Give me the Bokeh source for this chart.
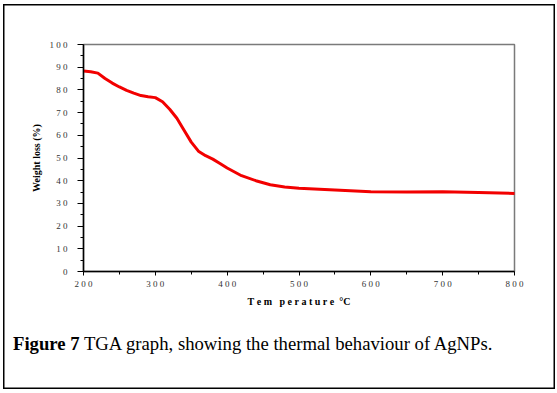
from bokeh.plotting import figure
from bokeh.models import Range1d, FixedTicker, Div
from bokeh.layouts import column
from bokeh.embed import file_html
from bokeh.resources import INLINE

# Data
temperature = [200, 210, 220, 230, 240, 250, 260, 270, 280, 290, 300, 310, 320, 330,
               340, 350, 360, 370, 380, 390, 400, 420, 440, 460, 480, 500, 550,
               600, 650, 700, 750, 800]
weight = [88.3, 88.0, 87.4, 85.0, 83.0, 81.3, 79.8, 78.6, 77.5, 77.0, 76.6, 74.8,
          71.5, 67.5, 62.2, 57.0, 53.0, 51.0, 49.5, 47.6, 45.6, 42.2, 40.0, 38.2,
          37.2, 36.7, 35.9, 35.1, 35.0, 35.1, 34.8, 34.4]

x_ticks = [200, 300, 400, 500, 600, 700, 800]
x_tick_labels = ["2 0 0", "3 0 0", "4 0 0", "5 0 0", "6 0 0", "7 0 0", "8 0 0"]
y_ticks = [0, 10, 20, 30, 40, 50, 60, 70, 80, 90, 100]
y_tick_labels = ["0", "1 0", "2 0", "3 0", "4 0", "5 0", "6 0", "7 0", "8 0", "9 0", "1 0 0"]

NB = "\u00a0"
x_title = NB.join("Tem") + NB * 3 + NB.join("perature") + NB * 2 + "\u00b0C"
y_title = "Weight loss (%)"
caption_bold = "Figure 7"
caption_text = "TGA graph, showing the thermal behaviour of AgNPs."

SERIF = "Liberation Serif"

# panel border drawn as inset box-shadows (white band over black band -> thin black line)
fig_frame = ("inset 3px 0 0 0 white, inset -2px 0 0 0 white, inset 0 4px 0 0 white, "
             "inset 4.5px 0 0 0 black, inset -3.5px 0 0 0 black, inset 0 5.5px 0 0 black")
cap_frame = ("inset 3px 0 0 0 white, inset -2px 0 0 0 white, inset 0 -4px 0 0 white, "
             "inset 4.5px 0 0 0 black, inset -3.5px 0 0 0 black, inset 0 -5.5px 0 0 black")

p = figure(width=557, height=330, output_backend="svg", toolbar_location=None,
           x_range=Range1d(200, 800), y_range=Range1d(0, 100),
           min_border_left=83, min_border_right=43, min_border_top=44, min_border_bottom=59,
           border_fill_color=None, background_fill_color=None,
           styles={"box-shadow": fig_frame, "background": "white"})

p.line(temperature, weight, line_color="#f20000", line_width=3, line_join="round", line_cap="round")

p.grid.visible = False
p.outline_line_color = "#7a7a7a"
p.outline_line_width = 1.5

for ax in (p.xaxis[0], p.yaxis[0]):
    ax.axis_line_color = "black"
    ax.axis_line_width = 1.5
    ax.major_tick_line_color = "black"
    ax.minor_tick_line_color = "black"
    ax.major_tick_in = 0
    ax.minor_tick_in = 0
    ax.major_label_text_font = SERIF
    ax.major_label_text_font_size = "9px"
    ax.major_label_text_color = "#333333"
    ax.axis_label_text_font = SERIF
    ax.axis_label_text_font_style = "bold"
    ax.axis_label_text_font_size = "10px"
    ax.axis_label_text_color = "black"

xa = p.xaxis[0]
xa.ticker = FixedTicker(ticks=x_ticks, minor_ticks=[250, 350, 450, 550, 650, 750])
xa.major_label_overrides = dict(zip(x_ticks, x_tick_labels))
xa.major_tick_out = 4
xa.minor_tick_out = 3
xa.major_label_standoff = 3
xa.axis_label = x_title
xa.axis_label_standoff = 4

ya = p.yaxis[0]
ya.ticker = FixedTicker(ticks=y_ticks, minor_ticks=[5, 15, 25, 35, 45, 55, 65, 75, 85, 95])
ya.major_label_overrides = dict(zip(y_ticks, y_tick_labels))
ya.major_tick_out = 6
ya.minor_tick_out = 3
ya.major_label_standoff = 10
ya.axis_label = y_title
ya.axis_label_standoff = 5

caption = Div(
    text=(f'<div style="font-family:\'{SERIF}\',serif;font-size:18.7px;line-height:1;'
          f'white-space:nowrap;padding-left:13px;padding-top:5px;color:black">'
          f'<b>{caption_bold}</b> {caption_text}</div>'),
    width=557, height=63, margin=0,
    styles={"box-shadow": cap_frame, "background": "white"})

layout = column(p, caption, spacing=0)

open("out.html", "w").write(file_html(layout, INLINE))
